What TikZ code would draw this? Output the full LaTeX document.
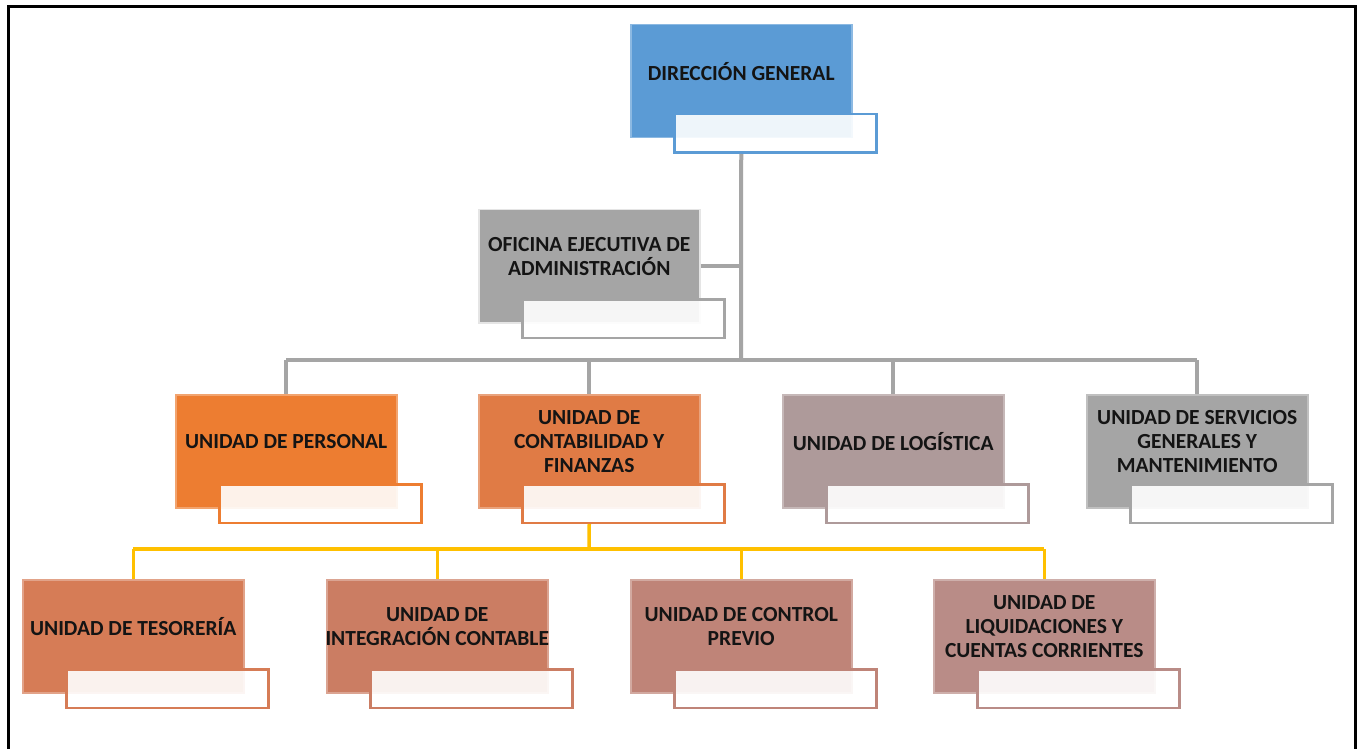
\documentclass[tikz,border=0pt]{standalone}
\usepackage{fontspec}
\setmainfont{Carlito}
\definecolor{cblue}{HTML}{5B9BD5}
\definecolor{cgray}{HTML}{A5A5A5}
\definecolor{corange}{HTML}{ED7D31}
\definecolor{ccontab}{HTML}{E07B45}
\definecolor{clogis}{HTML}{AE9A9A}
\definecolor{ctes}{HTML}{D67C56}
\definecolor{cint}{HTML}{CB7D63}
\definecolor{cctrl}{HTML}{BF8478}
\definecolor{cliq}{HTML}{B98C87}
\definecolor{cyel}{HTML}{FFC000}
\usetikzlibrary{calc}
\tikzset{
  mainbox/.style={rectangle, minimum width=221pt, minimum height=113pt, inner sep=0pt, anchor=north west},
  subbox/.style={rectangle, minimum width=202pt, minimum height=38.5pt, inner sep=0pt, anchor=north west, fill=white, fill opacity=0.9, line width=2.5pt},
  lbl/.style={align=center, font=\fontsize{21.5}{24}\selectfont\bfseries, text=black!92, inner sep=0pt},
  grayline/.style={draw=cgray, line width=4pt},
  yelline/.style={draw=cyel, line width=3.5pt},
}
\newcommand{\orgunit}[6]{%
  % #1 name, #2 x, #3 y, #4 colour, #5 text, #6 halo colour
  \node[mainbox, fill=#4, draw=#6, line width=1.5pt] (#1) at (#2,#3) {};
  \node[subbox, draw=#4] (#1s) at ($(#1.north west)+(43pt,-89pt)$) {};
  \node[lbl] (#1t) at ($(#1.north)+(0,-48pt)$) {#5};
}
\begin{document}
\begin{tikzpicture}[x=1pt,y=-1pt]
\useasboundingbox (0,0) rectangle (1361,749);
\fill[white] (0,0) rectangle (1361,749);
% frame
\draw[line width=3pt, line cap=rect] (8,749) -- (8,7) -- (1355,7) -- (1355,749);
% connector coordinates
\coordinate (bus) at (741,360);
\coordinate (ybus) at (589,549);
% boxes
\orgunit{dg}{630}{24}{cblue}{DIRECCIÓN GENERAL}{cblue!70!white}
\orgunit{of}{478}{209}{cgray}{OFICINA EJECUTIVA DE\\ADMINISTRACIÓN}{gray!20}
\orgunit{pe}{175}{394}{corange}{UNIDAD DE PERSONAL}{corange!70!white}
\orgunit{cf}{478}{394}{ccontab}{UNIDAD DE\\CONTABILIDAD Y\\FINANZAS}{ccontab!70!white}
\orgunit{lo}{782}{394}{clogis}{UNIDAD DE LOGÍSTICA}{clogis!70!white}
\orgunit{sg}{1086}{394}{cgray}{UNIDAD DE SERVICIOS\\GENERALES Y\\MANTENIMIENTO}{cgray!70!white}
\orgunit{te}{22}{579}{ctes}{UNIDAD DE TESORERÍA}{ctes!70!white}
\orgunit{ic}{326}{579}{cint}{UNIDAD DE\\INTEGRACIÓN CONTABLE}{cint!70!white}
\orgunit{cp}{630}{579}{cctrl}{UNIDAD DE CONTROL\\PREVIO}{cctrl!70!white}
\orgunit{lq}{933}{579}{cliq}{UNIDAD DE\\LIQUIDACIONES Y\\CUENTAS CORRIENTES}{cliq!70!white}
% gray connectors
\draw[grayline] (dg.center |- dgs.south) -- (bus);
\draw[grayline] (of.east) -- (of.east -| bus);
\draw[grayline] (bus -| pe.north) -- (bus -| sg.north);
\foreach \n in {pe,cf,lo,sg} \draw[grayline] (bus -| \n.north) -- (\n.north);
% yellow connectors
\draw[yelline] (cf.center |- cfs.south) -- (ybus);
\draw[yelline] (ybus -| te.north) -- (ybus -| lq.north);
\foreach \n in {te,ic,cp,lq} \draw[yelline] (ybus -| \n.north) -- (\n.north);
\end{tikzpicture}
\end{document}
